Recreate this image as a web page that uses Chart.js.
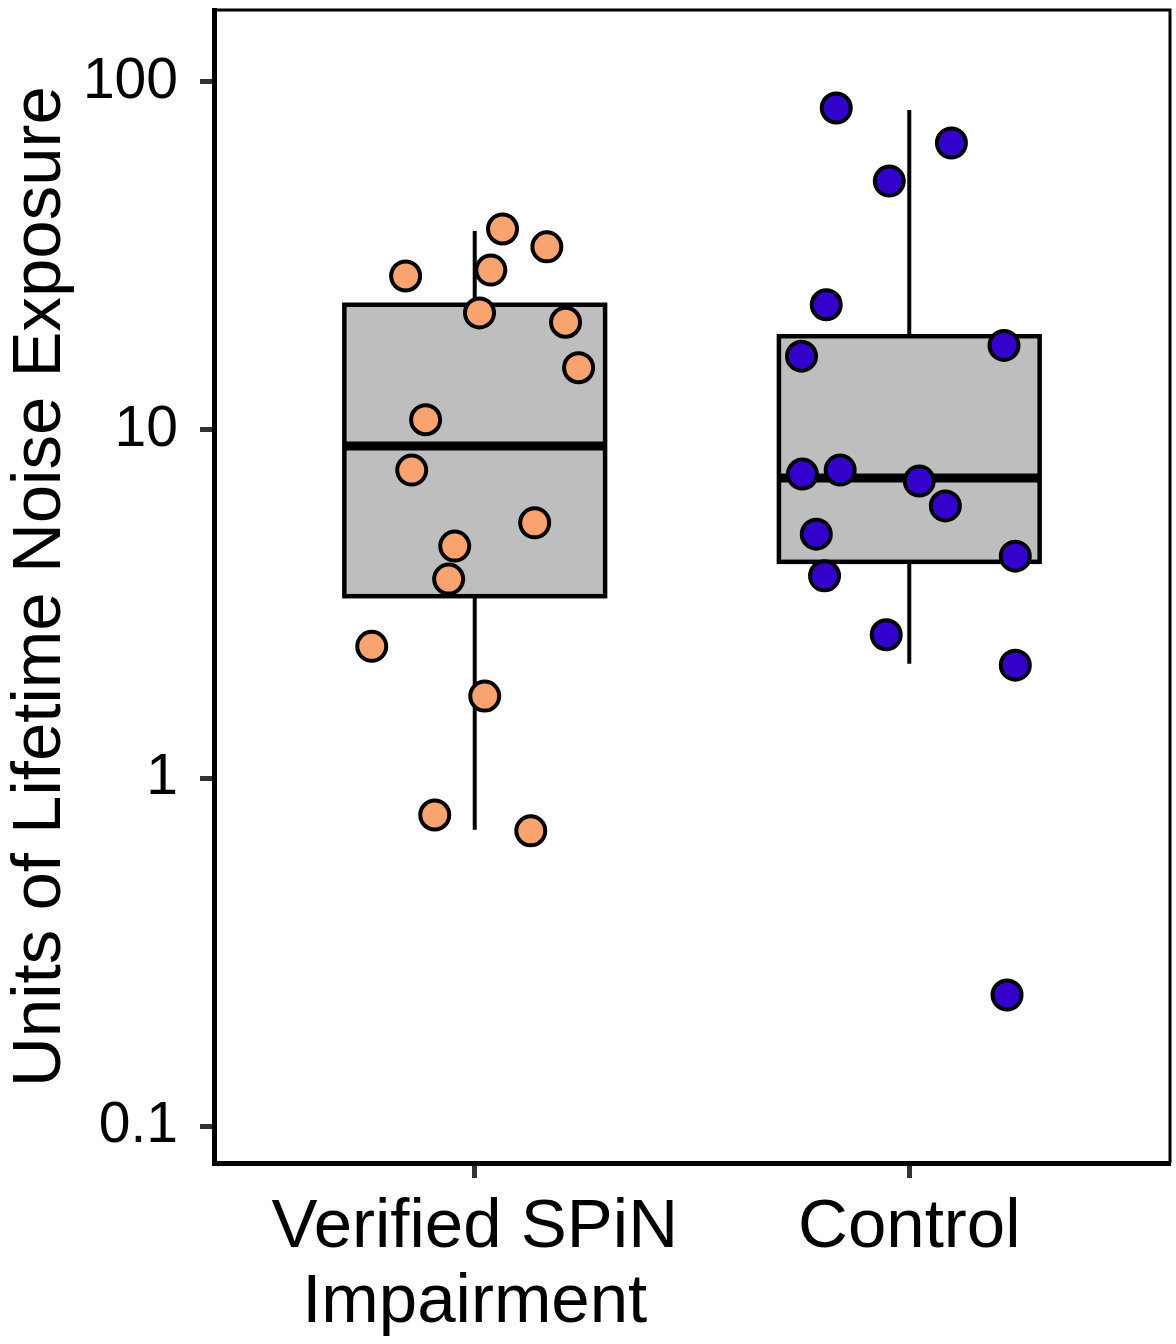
<!DOCTYPE html>
<html>
<head>
<meta charset="utf-8">
<script src="https://cdn.jsdelivr.net/npm/chart.js@4"></script>
<style>
  html, body { margin: 0; padding: 0; background: #fff; }
</style>
</head>
<body>
<canvas id="noiseChart" width="1176" height="1344"></canvas>
<script>
const groups = [['Verified SPiN', 'Impairment'], 'Control'];
const groupColors = ['#F9A470', '#3300CC'];

// box stats (low whisker, q1, median, q3, high whisker)
const whiskerLow = [0.71, 2.13];
const q1 = [3.33, 4.18];
const median = [9.0, 7.28];
const q3 = [22.9, 18.6];
const whiskerHigh = [37.3, 83.1];

// jittered points
const spinX = [1.064, 1.166, 0.841, 1.037, 1.011, 1.209, 1.239, 0.887, 0.855, 1.138, 0.954, 0.940, 0.763, 1.023, 0.908, 1.129];
const spinY = [37.8, 33.6, 27.7, 28.8, 21.7, 20.4, 15.1, 10.7, 7.67, 5.41, 4.64, 3.73, 2.39, 1.72, 0.783, 0.705];
const controlX = [1.832, 2.097, 1.954, 1.809, 2.218, 1.752, 1.754, 1.841, 2.023, 2.083, 1.786, 2.244, 1.805, 1.947, 2.244, 2.225];
const controlY = [84.2, 66.8, 51.9, 22.9, 17.5, 16.3, 7.47, 7.67, 7.13, 6.05, 5.02, 4.34, 3.81, 2.58, 2.11, 0.238];

const yTicks = [0.1, 1, 10, 100];

const font = 'Liberation Sans, Arial, sans-serif';

const boxPlugin = {
    id: 'boxes',
    beforeDatasetsDraw(chart) {
        const { ctx, scales: { x, y } } = chart;
        ctx.save();
        groups.forEach((g, i) => {
            const cx = x.getPixelForValue(i + 1);
            const left = x.getPixelForValue(i + 1 - 0.3);
            const right = x.getPixelForValue(i + 1 + 0.3);
            const top = y.getPixelForValue(q3[i]);
            const bottom = y.getPixelForValue(q1[i]);
            ctx.strokeStyle = '#000';
            ctx.lineWidth = 4;
            ctx.beginPath();
            ctx.moveTo(cx, top);
            ctx.lineTo(cx, y.getPixelForValue(whiskerHigh[i]));
            ctx.moveTo(cx, bottom);
            ctx.lineTo(cx, y.getPixelForValue(whiskerLow[i]));
            ctx.stroke();
            ctx.fillStyle = '#BEBEBE';
            ctx.fillRect(left, top, right - left, bottom - top);
            ctx.lineWidth = 4.5;
            ctx.strokeRect(left, top, right - left, bottom - top);
            const m = y.getPixelForValue(median[i]);
            ctx.lineWidth = 9;
            ctx.beginPath();
            ctx.moveTo(left, m);
            ctx.lineTo(right, m);
            ctx.stroke();
        });
        ctx.restore();
    },
    afterDraw(chart) {
        const { ctx, chartArea: a } = chart;
        ctx.save();
        ctx.strokeStyle = '#000';
        ctx.lineWidth = 3;
        ctx.beginPath();
        ctx.moveTo(a.left, a.top);
        ctx.lineTo(a.right, a.top);
        ctx.lineTo(a.right, a.bottom);
        ctx.stroke();
        ctx.restore();
    }
};

function points(xs, ys) {
    return xs.map((v, i) => ({ x: v, y: ys[i] }));
}

// drop the label overhang padding chart.js adds around the axes
function noOverhang(s) {
    s.paddingTop = 0;
    s.paddingBottom = 0;
    s.paddingLeft = 0;
    s.paddingRight = 0;
}

new Chart(document.getElementById('noiseChart'), {
    type: 'scatter',
    data: {
        datasets: [
            {
                data: points(spinX, spinY),
                backgroundColor: groupColors[0],
                borderColor: '#000',
                borderWidth: 4,
                pointRadius: 14.5
            },
            {
                data: points(controlX, controlY),
                backgroundColor: groupColors[1],
                borderColor: '#000',
                borderWidth: 4,
                pointRadius: 14.5
            }
        ]
    },
    options: {
        responsive: false,
        animation: false,
        layout: { autoPadding: false, padding: { top: 10, right: 6, left: 0, bottom: 0 } },
        plugins: { legend: { display: false }, tooltip: { enabled: false } },
        scales: {
            x: {
                type: 'linear',
                min: 0.4,
                max: 2.6,
                afterBuildTicks: s => { s.ticks = groups.map((g, i) => ({ value: i + 1 })); },
                afterFit: s => { s.height = 181; noOverhang(s); },
                ticks: {
                    callback: (v, i) => groups[i],
                    autoSkip: false,
                    maxRotation: 0,
                    padding: 12,
                    color: '#000',
                    font: { family: font, size: 69, lineHeight: 1.09 }
                },
                grid: { drawOnChartArea: false, tickLength: 15, tickWidth: 5, tickColor: '#333' },
                border: { color: '#000', width: 5 }
            },
            y: {
                type: 'logarithmic',
                min: 0.0783,
                max: 161,
                afterBuildTicks: s => { s.ticks = yTicks.map(v => ({ value: v })); },
                afterFit: s => { s.width = 214; noOverhang(s); },
                ticks: {
                    callback: v => String(v),
                    padding: 22,
                    color: '#000',
                    font: { family: font, size: 57 }
                },
                grid: { drawOnChartArea: false, tickLength: 14, tickWidth: 5, tickColor: '#333' },
                border: { color: '#000', width: 5 },
                title: {
                    display: true,
                    text: 'Units of Lifetime Noise Exposure',
                    color: '#000',
                    padding: 0,
                    font: { family: font, size: 69 }
                }
            }
        }
    },
    plugins: [boxPlugin]
});
</script>
</body>
</html>
